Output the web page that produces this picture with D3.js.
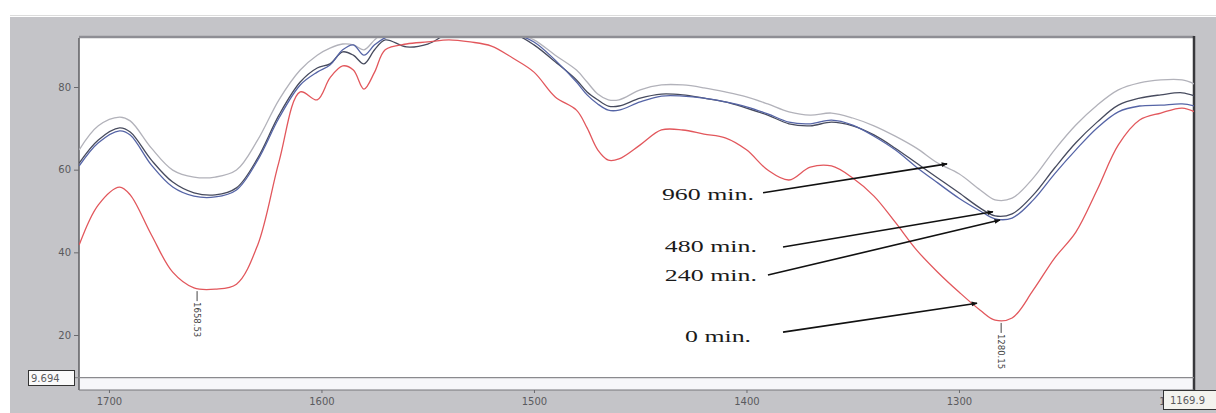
<!DOCTYPE html>
<html lang="en">
<head>
  <meta charset="UTF-8">
  <title>IR spectra</title>
  <script src="https://cdn.jsdelivr.net/npm/d3@7"></script>
  <style>
    body { margin: 0; background: #fff; }
    .tick-label { font-family: "DejaVu Sans", sans-serif; font-size: 10px; fill: #5a5a5e; }
    .time-label { font-family: "Liberation Serif", "DejaVu Serif", serif; font-size: 17px; fill: #1a1a1a; }
    .peak-label { font-family: "DejaVu Sans", sans-serif; font-size: 8.5px; fill: #444; }
  </style>
</head>
<body>

<div id="chart"></div>

<script type="text/javascript">

// wavenumbers (cm-1) shared by all spectra
var wavenumbers = [1714, 1705, 1695, 1690, 1680, 1670, 1660, 1650, 1640, 1630,
  1620, 1610, 1602, 1596, 1590, 1585, 1580, 1575, 1570, 1560,
  1550, 1540, 1530, 1520, 1510, 1500, 1490, 1480, 1475, 1470,
  1465, 1460, 1450, 1440, 1430, 1420, 1410, 1400, 1390, 1380,
  1370, 1360, 1350, 1340, 1330, 1320, 1310, 1300, 1290, 1283,
  1275, 1265, 1255, 1245, 1235, 1225, 1215, 1205, 1195, 1189];

// %T for each irradiation time
var t0 = [41.8, 51.5, 55.8, 53.9, 44.2, 35.2, 31.4, 31.1, 32.3, 41.8,
  61.9, 78.8, 76.9, 82.2, 85.1, 84.1, 79.5, 83.6, 89.0, 90.4,
  90.9, 91.4, 90.9, 89.9, 87.0, 83.6, 77.6, 74.4, 70.1, 64.8,
  62.3, 62.6, 66.0, 69.6, 69.6, 68.6, 67.7, 64.8, 59.9, 57.5,
  60.6, 60.9, 58.0, 53.6, 47.3, 40.6, 35.2, 30.4, 26.0, 23.6,
  24.1, 30.9, 38.6, 44.9, 55.1, 66.0, 72.0, 73.7, 74.9, 74.0];

var t240 = [60.9, 66.5, 69.4, 68.4, 61.1, 55.8, 53.6, 53.4, 55.1, 62.3,
  72.5, 80.5, 83.6, 85.3, 89.0, 90.2, 87.7, 90.2, 91.9, 93.0,
  93.5, 94.0, 94.0, 94.0, 93.0, 90.9, 86.5, 81.2, 78.1, 75.9,
  74.4, 74.4, 76.4, 77.8, 77.8, 77.3, 76.4, 75.2, 73.5, 71.5,
  71.1, 72.0, 70.8, 68.1, 64.8, 60.6, 56.8, 53.1, 50.0, 48.1,
  48.3, 52.7, 59.0, 64.8, 70.1, 74.0, 75.4, 75.6, 75.9, 75.4];

var t480 = [61.6, 67.2, 70.1, 69.1, 62.3, 57.0, 54.4, 53.9, 55.6, 62.8,
  73.2, 81.2, 84.6, 85.6, 88.5, 87.7, 85.6, 89.0, 91.4, 89.7,
  90.4, 93.0, 93.5, 93.5, 93.0, 90.2, 86.1, 81.7, 78.8, 76.9,
  75.4, 75.4, 77.3, 78.3, 78.1, 77.3, 76.4, 74.9, 73.2, 71.1,
  70.6, 71.5, 70.6, 68.4, 65.2, 61.6, 58.0, 54.4, 50.7, 48.8,
  49.3, 53.9, 60.4, 66.5, 71.5, 75.6, 77.3, 78.1, 78.6, 77.8];

var t960 = [64.8, 70.6, 72.7, 71.8, 65.2, 59.9, 58.2, 58.2, 59.9, 67.2,
  76.9, 84.1, 87.7, 89.4, 90.4, 90.2, 89.0, 91.4, 93.5, 94.0,
  95.0, 95.0, 95.0, 95.0, 93.5, 91.4, 87.7, 84.1, 81.2, 78.3,
  76.9, 76.9, 79.3, 80.5, 80.5, 79.8, 78.8, 77.6, 75.9, 74.0,
  73.2, 73.7, 72.5, 70.6, 68.1, 65.2, 61.6, 59.0, 55.1, 52.7,
  53.1, 58.0, 64.8, 70.8, 75.6, 79.3, 81.0, 81.7, 81.7, 80.7];

var seriesNames = ["960 min.", "480 min.", "240 min.", "0 min."];
var seriesColors = ["#b2b2ba", "#474b5e", "#5564a6", "#e2575c"];

var xTicks = [1700, 1600, 1500, 1400, 1300, 1200];
var yTicks = [20, 40, 60, 80];

// annotation arrows: start and tip in data units
var arrowStart = [[1392.2, 54.4], [1382.8, 41.3], [1389.9, 34.5], [1382.8, 20.7]];
var arrowTip = [[1305.6, 61.4], [1284.0, 49.8], [1280.7, 47.8], [1291.5, 27.7]];
var labelPos = [[1439.8, 53.9], [1438.4, 41.3], [1438.4, 34.3], [1428.9, 19.5]];

var peakWn = [1658.53, 1280.15];
var peakT = [31.1, 23.4];

var baseline = 9.694;

var W = 1216, H = 413;
var pLeft = 79, pRight = 1194, pTop = 38, pBottom = 390;

var x = d3.scaleLinear().domain([1714.1, 1189.4]).range([pLeft, pRight]);
var y0 = d3.scaleLinear().domain([20, 80]).range([335, 87]);
var y = d3.scaleLinear().domain([y0.invert(pBottom), y0.invert(pTop)]).range([pBottom, pTop]);

var svg = d3.select("#chart").append("svg")
  .attr("width", W)
  .attr("height", H);

// window background
svg.append("line").attr("x1", 10).attr("x2", W).attr("y1", 15.5).attr("y2", 15.5)
  .attr("stroke", "#dcdcdc");
svg.append("rect").attr("x", 10).attr("y", 17).attr("width", W - 10).attr("height", H - 17)
  .attr("fill", "#c4c4c8");

svg.append("rect").attr("x", pLeft).attr("y", pTop).attr("width", pRight - pLeft).attr("height", pBottom - pTop)
  .attr("fill", "#ffffff");
svg.append("rect").attr("x", pLeft).attr("y", y(baseline)).attr("width", pRight - pLeft).attr("height", pBottom - y(baseline))
  .attr("fill", "#f7f7fa");

var defs = svg.append("defs");
defs.append("clipPath").attr("id", "clip")
  .append("rect").attr("x", pLeft).attr("y", pTop).attr("width", pRight - pLeft).attr("height", pBottom - pTop);
// the end-value box hides most of the last tick label
defs.append("clipPath").attr("id", "clipTicks")
  .append("rect").attr("x", 0).attr("y", 0).attr("width", 1163).attr("height", H);

// borders
svg.append("line").attr("x1", pLeft).attr("x2", pRight).attr("y1", pTop - 1).attr("y2", pTop - 1)
  .attr("stroke", "#8e8e94").attr("stroke-width", 2.5);
svg.append("line").attr("x1", pLeft).attr("x2", pLeft).attr("y1", pTop).attr("y2", pBottom)
  .attr("stroke", "#5e5e62").attr("stroke-width", 1.5);
svg.append("line").attr("x1", pRight).attr("x2", pRight).attr("y1", pTop - 2).attr("y2", pBottom)
  .attr("stroke", "#38383c").attr("stroke-width", 2.5);
svg.append("line").attr("x1", pLeft).attr("x2", pRight).attr("y1", pBottom).attr("y2", pBottom)
  .attr("stroke", "#77777b").attr("stroke-width", 1.2);
svg.append("line").attr("x1", 74).attr("x2", pRight).attr("y1", y(baseline)).attr("y2", y(baseline))
  .attr("stroke", "#8a8a8e").attr("stroke-width", 1.2);

// y axis
var yAxis = d3.axisLeft(y).tickValues(yTicks).tickSize(5).tickPadding(3);
var gy = svg.append("g").attr("transform", "translate(" + pLeft + ",0)").call(yAxis);
gy.select(".domain").remove();
gy.selectAll("line").attr("stroke", "#6a6a6e");
gy.selectAll("text").attr("class", "tick-label");

// x axis
var xAxis = d3.axisBottom(x).tickValues(xTicks).tickSize(3).tickPadding(5).tickFormat(d3.format("d"));
var gx = svg.append("g").attr("clip-path", "url(#clipTicks)")
  .append("g").attr("transform", "translate(0," + pBottom + ")").call(xAxis);
gx.select(".domain").remove();
gx.selectAll("line").attr("stroke", "#6a6a6e");
gx.selectAll("text").attr("class", "tick-label").attr("font-size", 11);

// spectra
var line = d3.line()
  .x(function(d, i) { return x(wavenumbers[i]); })
  .y(function(d) { return y(d); })
  .curve(d3.curveCatmullRom.alpha(0.5));

var series = [t960, t480, t240, t0];
svg.append("g").attr("clip-path", "url(#clip)")
  .selectAll("path")
  .data(series)
  .enter()
  .append("path")
  .attr("d", line)
  .attr("fill", "none")
  .attr("stroke", function(d, i) { return seriesColors[i]; })
  .attr("stroke-width", 1.3);

// peak markers
peakWn.forEach(function(p, i) {
  var py = y(peakT[i]);
  svg.append("line").attr("x1", x(p)).attr("x2", x(p)).attr("y1", py + 2).attr("y2", py + 12)
    .attr("stroke", "#444").attr("stroke-width", 1);
  svg.append("text").attr("class", "peak-label")
    .attr("transform", "translate(" + (x(p) - 3) + "," + (py + 13) + ") rotate(90)")
    .text(d3.format(".2f")(p));
});

// arrows
defs.append("marker")
  .attr("id", "arrow").attr("viewBox", "0 0 10 10").attr("refX", 9).attr("refY", 5)
  .attr("markerWidth", 8).attr("markerHeight", 6).attr("orient", "auto")
  .attr("markerUnits", "userSpaceOnUse")
  .append("path").attr("d", "M0,1 L10,5 L0,9 Z").attr("fill", "#111");

svg.selectAll("line.arrow")
  .data(seriesNames)
  .enter()
  .append("line")
  .attr("class", "arrow")
  .attr("x1", function(d, i) { return x(arrowStart[i][0]); })
  .attr("y1", function(d, i) { return y(arrowStart[i][1]); })
  .attr("x2", function(d, i) { return x(arrowTip[i][0]); })
  .attr("y2", function(d, i) { return y(arrowTip[i][1]); })
  .attr("stroke", "#111").attr("stroke-width", 1.6)
  .attr("marker-end", "url(#arrow)");

svg.selectAll("text.time-label")
  .data(seriesNames)
  .enter()
  .append("text")
  .attr("class", "time-label")
  .attr("x", function(d, i) { return x(labelPos[i][0]); })
  .attr("y", function(d, i) { return y(labelPos[i][1]) + 5; })
  .attr("textLength", function(d) { return d.length > 6 ? 92 : 66; })
  .attr("lengthAdjust", "spacingAndGlyphs")
  .text(function(d) { return d; });

// value boxes
svg.append("rect").attr("x", 28.5).attr("y", 370.5).attr("width", 46).attr("height", 15)
  .attr("fill", "#fafafa").attr("stroke", "#333");
svg.append("text").attr("class", "tick-label").attr("x", 31).attr("y", 382)
  .attr("font-size", 10.5).attr("fill", "#333").text(baseline);

svg.append("rect").attr("x", 1163.5).attr("y", 390.5).attr("width", 60).attr("height", 19)
  .attr("fill", "#f3f3ee").attr("stroke", "#333");
svg.append("text").attr("class", "tick-label").attr("x", 1170).attr("y", 404)
  .attr("font-size", 11).attr("fill", "#444").text("1169.9");

</script>

</body>
</html>
